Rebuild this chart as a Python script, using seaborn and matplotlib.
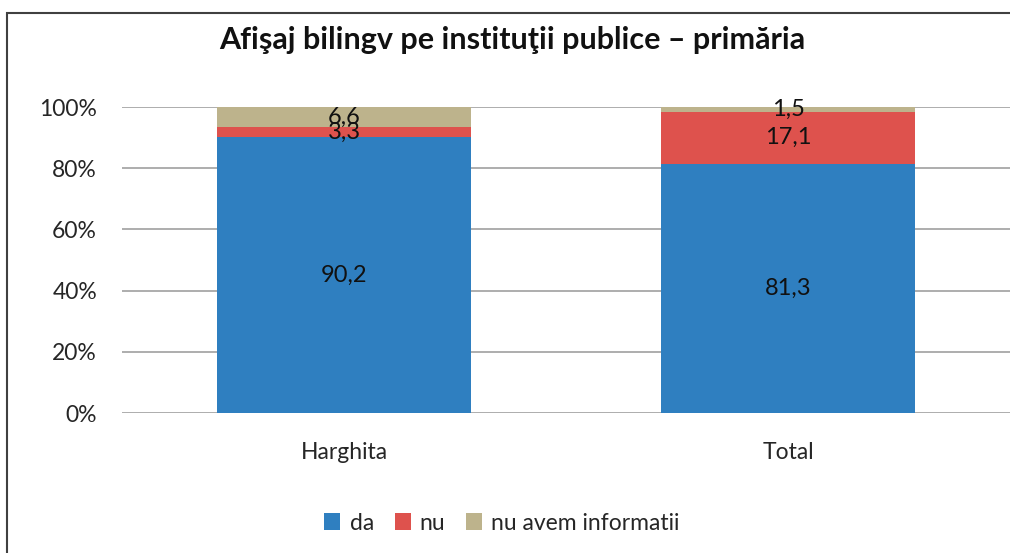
import numpy as np
import pandas as pd
import matplotlib
matplotlib.use("Agg")
import matplotlib.pyplot as plt
from matplotlib.patches import Rectangle, Patch
import seaborn as sns

categories = ["Harghita", "Total"]
da = [90.2, 81.3]
nu = [3.3, 17.1]
nu_avem = [6.6, 1.5]
series_names = ["da", "nu", "nu avem informatii"]
colors = ["#2F7FC0", "#DE524D", "#BDB38C"]
yticks = [0, 0.2, 0.4, 0.6, 0.8, 1.0]
ytick_labels = ["0%", "20%", "40%", "60%", "80%", "100%"]
title = "Afişaj bilingv pe instituţii publice – primăria"

sns.set_theme(style="white")
plt.rcParams["font.family"] = ["Lato", "DejaVu Sans"]

W, H = 1010, 553
fig = plt.figure(figsize=(W / 100, H / 100), dpi=100)
ax = fig.add_axes([122 / W, 1 - 413 / H, (1010 - 122) / W, (413 - 107) / H])

vals = np.array([da, nu, nu_avem], dtype=float)
tot = vals.sum(axis=0)
frac = vals / tot
cum = np.cumsum(frac, axis=0)

df = pd.DataFrame({"cat": categories})
for i in range(2, -1, -1):
    df["h"] = cum[i]
    sns.barplot(data=df, x="cat", y="h", color=colors[i], width=0.572,
                saturation=1, ax=ax, zorder=3, linewidth=0, edgecolor="none")

for j in range(len(categories)):
    for i in range(3):
        bottom = cum[i][j] - frac[i][j]
        c = bottom + frac[i][j] / 2
        ax.text(j, c, f"{vals[i][j]:.1f}".replace(".", ","), ha="center",
                va="center", fontsize=17, color="#111111", zorder=5)

ax.set_ylim(0, 1)
ax.set_xlim(-0.5, 1.5)
ax.set_yticks(yticks)
ax.set_yticklabels(ytick_labels, fontsize=16.5)
ax.tick_params(axis="y", length=0, pad=18)
ax.tick_params(axis="x", length=0, pad=21, labelsize=16.5)
ax.set_xlabel("")
ax.set_ylabel("")
ax.grid(axis="y", color="#A0A0A0", linewidth=1.2, zorder=0)
ax.set_axisbelow(True)
for s in ax.spines.values():
    s.set_visible(False)

fig.text(512 / W, 1 - 40 / H, title, ha="center", va="center",
         fontsize=22, fontweight="bold", color="#111111")

handles = [Patch(facecolor=c, edgecolor="none") for c in colors]
fig.legend(handles, series_names, loc="center", bbox_to_anchor=(502 / W, 1 - 523 / H),
           ncol=3, frameon=False, fontsize=16.5, handlelength=0.7, handleheight=0.7,
           handletextpad=0.4, columnspacing=0.9)

fig.patches.append(Rectangle((7, -300), 1200, (H - 13) + 300, transform=None, fill=False,
                             edgecolor="#404040", linewidth=1.5, figure=fig))

fig.savefig("out.png", dpi=100)
